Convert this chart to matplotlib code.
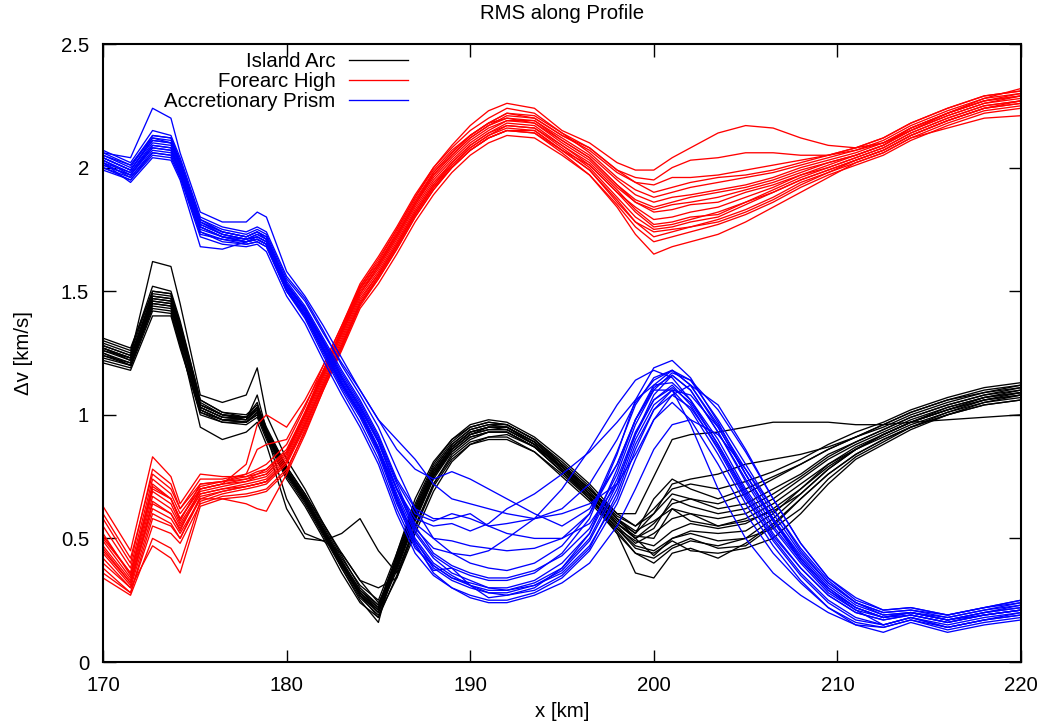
import matplotlib
matplotlib.use("Agg")
import matplotlib.pyplot as plt

plt.rcParams['font.family'] = ['Liberation Sans', 'DejaVu Sans']

# profile positions [km]
x_km = [170, 171.5, 172.7, 173.7, 174.2, 175.3, 176.5, 177.8, 178.4, 178.9,
        180, 181, 182, 183, 184, 185, 186, 187, 188, 189,
        190, 191, 192, 193.5, 195, 196.5, 198, 199, 200, 201,
        202, 203.5, 205, 206.5, 208, 209.5, 211, 212.5, 214, 216,
        218, 220]

island_arc = [
    [1.26,1.22,1.47,1.46,1.33,1.03,0.99,0.98,1.02,0.93,0.77,0.66,0.53,0.40,0.28,0.21,0.40,0.60,0.76,0.86,0.92,0.94,0.94,0.88,0.78,0.68,0.55,0.48,0.52,0.58,0.60,0.58,0.60,0.66,0.74,0.82,0.88,0.93,0.98,1.03,1.07,1.09],
    [1.30,1.26,1.52,1.50,1.38,1.06,1.01,1.00,1.04,0.95,0.79,0.68,0.55,0.42,0.31,0.25,0.44,0.64,0.80,0.90,0.96,0.98,0.97,0.91,0.82,0.72,0.60,0.55,0.62,0.70,0.72,0.70,0.73,0.77,0.82,0.88,0.93,0.97,1.02,1.07,1.11,1.13],
    [1.22,1.19,1.42,1.41,1.28,1.00,0.97,0.96,0.99,0.90,0.74,0.63,0.50,0.36,0.24,0.18,0.35,0.55,0.72,0.83,0.89,0.91,0.91,0.85,0.75,0.65,0.52,0.44,0.42,0.47,0.50,0.46,0.47,0.55,0.66,0.76,0.84,0.90,0.95,1.00,1.04,1.06],
    [1.28,1.24,1.62,1.60,1.45,1.08,1.05,1.08,1.19,1.00,0.82,0.70,0.56,0.43,0.30,0.23,0.42,0.62,0.78,0.88,0.94,0.96,0.95,0.89,0.80,0.70,0.60,0.60,0.75,0.90,0.92,0.93,0.95,0.97,0.97,0.97,0.96,0.96,0.97,0.98,0.99,1.00],
    [1.24,1.21,1.45,1.44,1.30,0.95,0.90,0.93,0.97,0.88,0.62,0.50,0.49,0.52,0.58,0.45,0.36,0.55,0.72,0.84,0.90,0.93,0.93,0.87,0.77,0.67,0.54,0.47,0.45,0.50,0.53,0.52,0.53,0.60,0.70,0.80,0.86,0.92,0.97,1.02,1.06,1.08],
    [1.27,1.23,1.48,1.47,1.33,1.04,1.00,0.99,1.03,0.92,0.66,0.52,0.49,0.44,0.33,0.24,0.38,0.58,0.75,0.86,0.92,0.95,0.94,0.88,0.79,0.69,0.56,0.50,0.56,0.64,0.66,0.62,0.64,0.70,0.76,0.84,0.89,0.94,0.99,1.04,1.08,1.10],
    [1.25,1.20,1.44,1.43,1.31,1.02,0.98,0.97,1.01,0.92,0.76,0.65,0.52,0.39,0.27,0.20,0.37,0.57,0.74,0.85,0.91,0.93,0.93,0.87,0.77,0.66,0.53,0.44,0.40,0.46,0.49,0.47,0.50,0.58,0.68,0.78,0.86,0.92,0.97,1.02,1.07,1.09],
    [1.29,1.25,1.50,1.49,1.36,1.05,1.00,0.98,1.08,0.94,0.78,0.67,0.54,0.41,0.29,0.22,0.42,0.62,0.78,0.88,0.94,0.96,0.96,0.90,0.81,0.71,0.58,0.52,0.60,0.68,0.66,0.64,0.68,0.74,0.80,0.86,0.91,0.96,1.01,1.06,1.10,1.12],
    [1.23,1.20,1.43,1.42,1.29,1.01,0.97,0.97,1.00,0.91,0.75,0.64,0.51,0.38,0.26,0.19,0.34,0.54,0.71,0.82,0.88,0.90,0.90,0.85,0.76,0.66,0.54,0.49,0.47,0.53,0.56,0.54,0.56,0.62,0.70,0.79,0.86,0.91,0.96,1.01,1.05,1.07],
    [1.27,1.22,1.46,1.45,1.34,1.03,0.99,0.99,1.05,0.93,0.77,0.66,0.53,0.40,0.27,0.18,0.39,0.59,0.76,0.87,0.93,0.95,0.95,0.89,0.79,0.69,0.57,0.52,0.66,0.74,0.70,0.66,0.70,0.75,0.80,0.86,0.91,0.96,1.01,1.06,1.09,1.11],
    [1.26,1.23,1.49,1.48,1.35,1.04,1.00,0.99,1.03,0.93,0.77,0.66,0.53,0.40,0.28,0.21,0.41,0.61,0.77,0.87,0.93,0.95,0.95,0.88,0.78,0.67,0.52,0.36,0.34,0.44,0.46,0.42,0.48,0.56,0.66,0.76,0.84,0.90,0.95,1.00,1.04,1.06],
    [1.21,1.18,1.40,1.40,1.27,1.01,0.98,0.97,1.00,0.92,0.76,0.65,0.52,0.38,0.25,0.16,0.44,0.66,0.81,0.90,0.95,0.97,0.96,0.90,0.80,0.70,0.58,0.53,0.57,0.62,0.57,0.55,0.58,0.64,0.72,0.80,0.87,0.92,0.97,1.02,1.06,1.08],
    [1.31,1.27,1.50,1.49,1.37,1.06,1.01,0.99,1.02,0.94,0.79,0.68,0.56,0.44,0.33,0.30,0.34,0.52,0.69,0.81,0.88,0.91,0.92,0.87,0.79,0.70,0.58,0.50,0.43,0.50,0.52,0.49,0.50,0.54,0.62,0.74,0.83,0.89,0.95,1.01,1.06,1.09],
    [1.25,1.21,1.46,1.45,1.32,1.02,0.98,0.98,1.02,0.93,0.77,0.66,0.53,0.40,0.27,0.20,0.39,0.58,0.75,0.86,0.92,0.94,0.94,0.88,0.78,0.68,0.56,0.51,0.50,0.62,0.60,0.55,0.57,0.61,0.68,0.78,0.86,0.92,0.97,1.03,1.07,1.10],
    [1.28,1.24,1.48,1.47,1.34,1.04,1.00,0.99,1.03,0.94,0.78,0.67,0.54,0.41,0.29,0.23,0.43,0.63,0.79,0.89,0.95,0.97,0.96,0.90,0.80,0.70,0.59,0.55,0.60,0.72,0.74,0.76,0.80,0.82,0.84,0.87,0.91,0.95,1.00,1.05,1.09,1.12],
    [1.24,1.20,1.45,1.44,1.31,1.02,0.98,0.97,1.01,0.92,0.76,0.65,0.52,0.39,0.27,0.21,0.38,0.58,0.75,0.85,0.91,0.93,0.93,0.87,0.77,0.67,0.54,0.46,0.44,0.49,0.45,0.44,0.46,0.50,0.60,0.72,0.82,0.88,0.94,1.00,1.05,1.08],
    [1.27,1.23,1.47,1.46,1.33,1.03,0.99,0.98,1.02,0.93,0.77,0.66,0.53,0.40,0.28,0.22,0.40,0.60,0.77,0.87,0.93,0.95,0.95,0.89,0.79,0.68,0.56,0.50,0.54,0.66,0.63,0.60,0.62,0.68,0.75,0.83,0.89,0.94,0.99,1.04,1.08,1.11],
]

forearc_high = [
    [0.47,0.33,0.67,0.62,0.55,0.68,0.70,0.72,0.73,0.74,0.82,0.98,1.15,1.31,1.48,1.58,1.70,1.83,1.94,2.02,2.09,2.14,2.18,2.17,2.09,2.01,1.90,1.84,1.79,1.80,1.82,1.84,1.88,1.92,1.97,2.00,2.04,2.08,2.14,2.20,2.25,2.27],
    [0.58,0.40,0.78,0.72,0.62,0.74,0.74,0.76,0.78,0.80,0.88,1.03,1.20,1.36,1.53,1.64,1.76,1.89,2.00,2.08,2.15,2.20,2.24,2.22,2.14,2.06,1.96,1.91,1.88,1.90,1.92,1.94,1.96,1.98,2.01,2.04,2.07,2.11,2.17,2.23,2.28,2.30],
    [0.38,0.28,0.55,0.52,0.48,0.64,0.67,0.68,0.69,0.70,0.78,0.93,1.10,1.26,1.43,1.53,1.65,1.78,1.89,1.98,2.05,2.10,2.13,2.12,2.05,1.97,1.85,1.76,1.70,1.72,1.74,1.77,1.81,1.86,1.92,1.97,2.01,2.05,2.11,2.17,2.22,2.24],
    [0.50,0.36,0.70,0.66,0.58,0.70,0.72,0.74,0.76,0.78,0.86,1.01,1.18,1.35,1.52,1.62,1.75,1.88,2.00,2.09,2.17,2.23,2.26,2.24,2.15,2.10,2.02,1.99,1.99,2.04,2.08,2.14,2.17,2.16,2.12,2.09,2.08,2.10,2.15,2.21,2.26,2.29],
    [0.40,0.30,0.47,0.42,0.36,0.63,0.66,0.67,0.68,0.69,0.77,0.94,1.11,1.27,1.44,1.55,1.67,1.80,1.91,2.00,2.07,2.12,2.15,2.14,2.06,1.97,1.84,1.73,1.65,1.68,1.70,1.73,1.78,1.84,1.90,1.96,2.02,2.06,2.12,2.16,2.20,2.21],
    [0.44,0.31,0.64,0.60,0.53,0.70,0.72,0.80,0.96,1.00,0.95,1.06,1.20,1.36,1.52,1.63,1.75,1.88,1.99,2.07,2.13,2.18,2.20,2.18,2.10,2.03,1.92,1.86,1.83,1.85,1.86,1.88,1.91,1.94,1.98,2.02,2.05,2.09,2.15,2.21,2.26,2.28],
    [0.52,0.35,0.72,0.66,0.57,0.72,0.73,0.76,0.86,0.88,0.90,1.04,1.18,1.33,1.49,1.60,1.72,1.85,1.96,2.04,2.11,2.16,2.19,2.19,2.12,2.05,1.95,1.89,1.86,1.88,1.89,1.91,1.93,1.96,2.00,2.03,2.06,2.10,2.16,2.22,2.27,2.30],
    [0.46,0.32,0.62,0.58,0.52,0.66,0.66,0.64,0.62,0.61,0.76,0.92,1.10,1.27,1.45,1.56,1.68,1.81,1.92,2.01,2.08,2.13,2.17,2.16,2.08,2.00,1.88,1.80,1.75,1.76,1.78,1.80,1.85,1.90,1.95,1.99,2.03,2.07,2.13,2.19,2.24,2.27],
    [0.63,0.45,0.83,0.75,0.64,0.76,0.75,0.75,0.77,0.78,0.85,1.00,1.16,1.32,1.49,1.59,1.71,1.84,1.95,2.03,2.10,2.15,2.19,2.18,2.11,2.04,1.93,1.87,1.84,1.86,1.88,1.90,1.92,1.95,1.99,2.02,2.05,2.09,2.15,2.22,2.28,2.32],
    [0.34,0.27,0.50,0.46,0.40,0.65,0.68,0.70,0.71,0.72,0.80,0.95,1.12,1.28,1.45,1.56,1.68,1.81,1.92,2.00,2.07,2.12,2.15,2.15,2.07,1.99,1.87,1.78,1.74,1.75,1.76,1.79,1.83,1.88,1.94,1.98,2.02,2.06,2.12,2.18,2.23,2.25],
    [0.49,0.34,0.69,0.64,0.56,0.69,0.71,0.73,0.74,0.75,0.83,0.99,1.16,1.33,1.50,1.60,1.72,1.85,1.97,2.05,2.12,2.17,2.21,2.20,2.13,2.07,1.98,1.94,1.93,1.96,1.96,1.97,1.99,2.01,2.03,2.05,2.08,2.12,2.18,2.24,2.29,2.31],
    [0.55,0.38,0.74,0.68,0.60,0.71,0.73,0.74,0.75,0.76,0.84,1.00,1.17,1.34,1.51,1.61,1.73,1.86,1.97,2.05,2.12,2.17,2.20,2.19,2.11,2.04,1.93,1.86,1.82,1.83,1.85,1.86,1.90,1.93,1.97,2.01,2.05,2.09,2.16,2.22,2.27,2.29],
    [0.42,0.30,0.60,0.56,0.50,0.67,0.69,0.71,0.72,0.73,0.81,0.96,1.13,1.29,1.46,1.57,1.69,1.82,1.93,2.01,2.08,2.13,2.16,2.15,2.07,1.99,1.86,1.78,1.72,1.74,1.76,1.78,1.82,1.87,1.93,1.98,2.03,2.07,2.13,2.19,2.24,2.26],
    [0.60,0.42,0.76,0.70,0.62,0.72,0.73,0.75,0.76,0.77,0.85,1.01,1.18,1.34,1.51,1.61,1.73,1.86,1.98,2.06,2.13,2.18,2.22,2.21,2.14,2.08,1.99,1.94,1.90,1.92,1.94,1.96,1.97,1.99,2.02,2.05,2.08,2.12,2.18,2.24,2.29,2.31],
    [0.45,0.32,0.65,0.60,0.54,0.68,0.70,0.71,0.72,0.73,0.81,0.97,1.14,1.30,1.47,1.57,1.69,1.82,1.93,2.02,2.09,2.14,2.17,2.16,2.09,2.02,1.91,1.83,1.77,1.78,1.80,1.81,1.86,1.91,1.96,2.00,2.04,2.08,2.14,2.20,2.25,2.27],
    [0.36,0.28,0.58,0.55,0.50,0.66,0.69,0.71,0.72,0.73,0.81,0.96,1.12,1.28,1.45,1.55,1.67,1.80,1.91,2.00,2.07,2.12,2.15,2.14,2.07,2.01,1.90,1.82,1.76,1.77,1.79,1.82,1.86,1.90,1.95,1.99,2.03,2.07,2.13,2.19,2.24,2.26],
    [0.51,0.36,0.71,0.66,0.58,0.70,0.72,0.73,0.75,0.76,0.84,1.00,1.17,1.34,1.51,1.61,1.74,1.87,1.98,2.06,2.13,2.18,2.22,2.20,2.13,2.08,1.99,1.96,1.95,2.00,2.03,2.04,2.06,2.06,2.05,2.05,2.07,2.10,2.16,2.22,2.27,2.29],
]

accretionary_prism = [
    [2.03,1.98,2.10,2.09,2.00,1.77,1.73,1.71,1.72,1.70,1.52,1.42,1.28,1.14,1.02,0.87,0.68,0.52,0.42,0.36,0.33,0.30,0.30,0.33,0.40,0.52,0.74,0.93,1.06,1.11,1.05,0.88,0.69,0.52,0.38,0.27,0.20,0.17,0.19,0.16,0.19,0.21],
    [2.07,2.02,2.15,2.13,2.04,1.80,1.76,1.74,1.76,1.74,1.56,1.47,1.34,1.20,1.08,0.95,0.78,0.62,0.50,0.44,0.40,0.38,0.37,0.40,0.47,0.60,0.85,1.04,1.15,1.18,1.12,0.96,0.78,0.60,0.44,0.32,0.24,0.20,0.21,0.19,0.22,0.24],
    [1.99,1.95,2.05,2.04,1.96,1.72,1.69,1.68,1.69,1.66,1.48,1.37,1.22,1.08,0.95,0.80,0.60,0.44,0.35,0.30,0.27,0.25,0.25,0.28,0.34,0.45,0.64,0.82,0.98,1.05,0.98,0.80,0.60,0.44,0.32,0.22,0.16,0.14,0.17,0.13,0.16,0.18],
    [2.06,2.04,2.24,2.20,2.06,1.82,1.78,1.78,1.82,1.80,1.58,1.48,1.36,1.23,1.10,0.98,0.86,0.78,0.74,0.77,0.74,0.70,0.66,0.60,0.55,0.62,0.80,0.98,1.12,1.18,1.14,0.98,0.80,0.62,0.45,0.32,0.24,0.20,0.21,0.18,0.21,0.24],
    [2.01,1.97,2.08,2.07,1.98,1.75,1.72,1.70,1.71,1.69,1.51,1.40,1.26,1.12,1.00,0.86,0.70,0.58,0.55,0.56,0.53,0.56,0.62,0.68,0.76,0.85,0.97,1.06,1.12,1.13,1.06,0.90,0.70,0.54,0.40,0.28,0.21,0.18,0.20,0.17,0.20,0.22],
    [2.04,1.99,2.12,2.10,2.01,1.79,1.74,1.72,1.74,1.72,1.54,1.44,1.31,1.18,1.06,0.92,0.74,0.62,0.58,0.58,0.60,0.55,0.52,0.50,0.50,0.56,0.72,0.92,1.08,1.16,1.10,0.93,0.74,0.57,0.42,0.30,0.22,0.18,0.20,0.17,0.20,0.22],
    [2.02,1.96,2.07,2.06,1.98,1.74,1.70,1.69,1.70,1.68,1.50,1.40,1.25,1.11,0.99,0.84,0.64,0.48,0.36,0.30,0.26,0.24,0.24,0.27,0.32,0.40,0.55,0.70,0.86,0.96,0.98,0.92,0.78,0.62,0.46,0.33,0.24,0.19,0.20,0.17,0.19,0.21],
    [2.05,2.00,2.13,2.12,2.02,1.78,1.74,1.72,1.74,1.72,1.53,1.43,1.29,1.15,1.03,0.89,0.70,0.53,0.43,0.38,0.35,0.33,0.33,0.36,0.44,0.58,0.84,1.06,1.19,1.22,1.15,0.97,0.76,0.57,0.41,0.29,0.21,0.15,0.18,0.14,0.17,0.20],
    [2.00,1.96,2.06,2.05,1.97,1.73,1.71,1.70,1.71,1.69,1.51,1.41,1.27,1.13,1.01,0.86,0.66,0.49,0.38,0.33,0.30,0.28,0.28,0.31,0.37,0.49,0.70,0.90,1.04,1.10,1.02,0.84,0.64,0.47,0.33,0.22,0.15,0.12,0.16,0.12,0.15,0.17],
    [2.04,1.99,2.11,2.10,2.01,1.78,1.73,1.71,1.73,1.71,1.52,1.43,1.30,1.16,1.04,0.90,0.72,0.55,0.44,0.39,0.36,0.34,0.34,0.37,0.43,0.54,0.76,0.96,1.10,1.17,1.14,1.02,0.85,0.66,0.48,0.34,0.25,0.21,0.22,0.19,0.22,0.25],
    [2.02,1.94,2.04,2.03,1.95,1.68,1.67,1.70,1.71,1.69,1.50,1.39,1.24,1.10,0.97,0.82,0.62,0.46,0.39,0.34,0.31,0.29,0.29,0.32,0.38,0.50,0.72,0.92,1.06,1.12,1.04,0.86,0.66,0.50,0.36,0.25,0.18,0.15,0.18,0.15,0.18,0.20],
    [2.03,1.97,2.09,2.08,1.99,1.76,1.72,1.71,1.72,1.70,1.52,1.42,1.29,1.15,1.03,0.89,0.70,0.56,0.50,0.49,0.47,0.46,0.45,0.46,0.50,0.60,0.80,0.98,1.11,1.16,1.10,0.93,0.73,0.55,0.41,0.29,0.22,0.18,0.20,0.17,0.20,0.23],
    [2.01,1.97,2.08,2.07,1.99,1.76,1.72,1.70,1.71,1.69,1.51,1.41,1.27,1.13,1.01,0.86,0.67,0.50,0.40,0.35,0.31,0.28,0.27,0.30,0.38,0.52,0.78,0.98,1.10,1.10,0.96,0.70,0.50,0.36,0.27,0.20,0.15,0.14,0.17,0.14,0.17,0.19],
    [2.05,2.01,2.12,2.11,2.02,1.78,1.74,1.72,1.74,1.71,1.53,1.43,1.30,1.17,1.05,0.91,0.73,0.60,0.57,0.60,0.58,0.55,0.56,0.58,0.60,0.64,0.72,0.84,0.98,1.08,1.12,1.04,0.86,0.66,0.48,0.34,0.26,0.21,0.22,0.19,0.22,0.25],
    [2.00,1.95,2.06,2.05,1.97,1.74,1.71,1.69,1.70,1.68,1.50,1.40,1.26,1.12,1.00,0.85,0.65,0.47,0.37,0.38,0.31,0.26,0.27,0.29,0.35,0.46,0.68,0.88,1.02,1.08,1.03,0.87,0.67,0.49,0.35,0.24,0.17,0.15,0.18,0.14,0.17,0.19],
    [2.04,1.99,2.11,2.10,2.01,1.77,1.73,1.71,1.73,1.71,1.53,1.43,1.29,1.15,1.03,0.89,0.70,0.54,0.46,0.44,0.43,0.45,0.50,0.58,0.70,0.86,1.04,1.14,1.18,1.15,1.06,0.88,0.68,0.51,0.38,0.27,0.20,0.17,0.19,0.16,0.19,0.21],
    [2.02,1.98,2.09,2.08,1.99,1.76,1.72,1.70,1.72,1.70,1.51,1.41,1.27,1.13,1.01,0.86,0.66,0.49,0.39,0.34,0.32,0.30,0.29,0.31,0.36,0.47,0.66,0.86,1.02,1.10,1.08,0.95,0.76,0.58,0.42,0.30,0.22,0.18,0.19,0.16,0.19,0.21],
    [2.06,2.01,2.13,2.12,2.03,1.79,1.75,1.73,1.75,1.73,1.55,1.46,1.33,1.21,1.10,0.98,0.90,0.82,0.72,0.66,0.64,0.62,0.60,0.58,0.62,0.72,0.90,1.05,1.14,1.18,1.12,0.95,0.76,0.58,0.43,0.31,0.23,0.19,0.20,0.18,0.21,0.23],
]

series_names = ["Island Arc", "Forearc High", "Accretionary Prism"]
series_colors = ["#000000", "#ff0000", "#0000ff"]
groups = [island_arc, forearc_high, accretionary_prism]

for name, grp in zip(series_names, groups):
    for i, c in enumerate(grp):
        if len(c) != len(x_km):
            raise SystemExit(f"{name} curve {i} has {len(c)} values")

fs = 14.7
fig = plt.figure(figsize=(10.43, 7.28), dpi=100)
ax = fig.add_axes([103/1043, 66/728, 918/1043, 618/728])

handles = []
for name, color, grp in zip(series_names, series_colors, groups):
    for i, c in enumerate(grp):
        ln, = ax.plot(x_km, c, color=color, lw=0.95,
                      label=name if i == 0 else None)
        if i == 0:
            handles.append(ln)

ax.set_xlim(170, 220)
ax.set_ylim(0, 2.5)
ax.set_xticks([170, 180, 190, 200, 210, 220])
ax.set_yticks([0, 0.5, 1, 1.5, 2, 2.5])
ax.set_yticklabels(["0", "0.5", "1", "1.5", "2", "2.5"])
ax.tick_params(direction='in', length=9, width=1, top=True, right=True,
               labelsize=fs, pad=10)
for sp in ax.spines.values():
    sp.set_linewidth(1.5)

ax.set_title("RMS along Profile", fontsize=fs, pad=18)
ax.set_xlabel("x [km]", fontsize=fs, labelpad=5)
ax.set_ylabel("Δv [km/s]", fontsize=fs, labelpad=20)

leg = ax.legend(handles=handles, loc='upper right',
                bbox_to_anchor=((408 - 103) / 918, (662 - 52) / 618),
                markerfirst=False, frameon=False, fontsize=fs,
                handlelength=2.9, handletextpad=0.65, labelspacing=0.05,
                borderpad=0, borderaxespad=0)
for h in leg.legend_handles:
    h.set_linewidth(0.95)

fig.savefig("out.png", dpi=100)
